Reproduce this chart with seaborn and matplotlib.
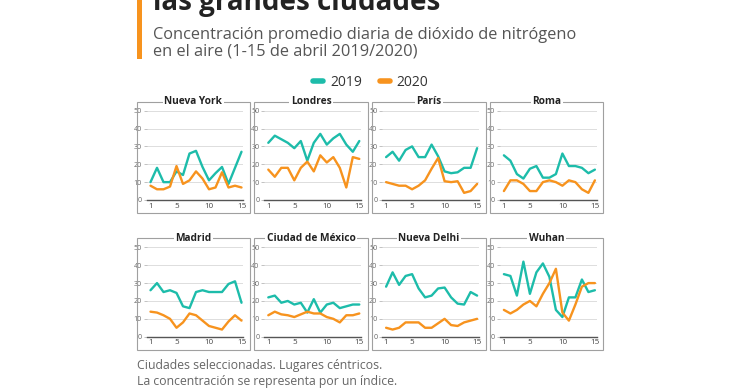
import matplotlib
matplotlib.use("Agg")
import matplotlib.pyplot as plt
import seaborn as sns
import pandas as pd
from matplotlib.patches import Rectangle
from matplotlib.lines import Line2D

# ---------------- data ----------------
days = list(range(1, 16))
cities = ["Nueva York", "Londres", "París", "Roma",
          "Madrid", "Ciudad de México", "Nueva Delhi", "Wuhan"]
years = ["2019", "2020"]

ny_2019 = [10, 18, 10, 10, 16, 14, 26, 27.5, 18.5, 11, 15, 18.5, 9, 18, 27]
ny_2020 = [8, 6, 6, 7.5, 19, 9, 11, 16, 12, 6, 7, 15.5, 7, 8, 7]
lon_2019 = [32, 36, 34, 32, 29, 33, 22, 32, 37, 31, 34.5, 37, 31, 27, 33]
lon_2020 = [17, 13, 18, 18, 11, 18, 21.5, 16, 25, 21, 24, 18, 7, 24, 23]
par_2019 = [24, 27, 22, 28, 30, 24, 24, 31, 24.5, 16, 15, 15.5, 18, 18, 29]
par_2020 = [10, 9, 8, 8, 6, 8, 11, 17.5, 23.5, 10.5, 10, 10.5, 4, 5, 9]
rom_2019 = [25, 22, 14.5, 12, 17.5, 19, 12.5, 12.5, 14.5, 26, 19, 19, 18, 15, 17]
rom_2020 = [5, 11, 11, 9, 5, 5, 10, 11, 10, 8, 11, 10, 6, 4, 11]
mad_2019 = [26, 30, 25, 26, 24.5, 17, 16, 25, 26, 25, 25, 25, 29.5, 31, 19]
mad_2020 = [14, 13.5, 12, 10, 5, 8, 13, 12, 9, 6, 5, 4, 8.5, 12, 9]
mex_2019 = [22, 23, 19, 20, 18, 19, 13.5, 21, 13.5, 18, 19, 16, 17, 18, 18]
mex_2020 = [12, 14, 12.5, 12, 11, 12.5, 14, 13, 13, 11, 10, 8, 12, 12, 13]
del_2019 = [28, 36, 29, 34, 35, 27, 22, 23, 27, 27.5, 22, 18.5, 18, 25, 23]
del_2020 = [5, 4, 5, 8, 8, 8, 5, 5, 7.5, 10, 6.5, 6, 8, 9, 10]
wuh_2019 = [35, 34, 23, 42, 24, 36, 41, 33.5, 15, 11, 22, 22, 32, 25, 26]
wuh_2020 = [15, 13, 15, 18, 20, 17, 24, 30, 38, 13.5, 9, 18, 28, 30, 30]

series = {
    "Nueva York": (ny_2019, ny_2020),
    "Londres": (lon_2019, lon_2020),
    "París": (par_2019, par_2020),
    "Roma": (rom_2019, rom_2020),
    "Madrid": (mad_2019, mad_2020),
    "Ciudad de México": (mex_2019, mex_2020),
    "Nueva Delhi": (del_2019, del_2020),
    "Wuhan": (wuh_2019, wuh_2020),
}

xticks = [1, 5, 10, 15]
yticks = [0, 10, 20, 30, 40, 50]

title = "las grandes ciudades"
subtitle1 = "Concentración promedio diaria de dióxido de nitrógeno"
subtitle2 = "en el aire (1-15 de abril 2019/2020)"
foot1 = "Ciudades seleccionadas. Lugares céntricos."
foot2 = "La concentración se representa por un índice."

rows = []
for c in cities:
    for y, vals in zip(years, series[c]):
        for d, v in zip(days, vals):
            rows.append({"city": c, "year": y, "day": d, "value": v})
df = pd.DataFrame(rows)

# ---------------- style ----------------
sns.set_theme(style="white")
plt.rcParams["font.family"] = ["Open Sans", "DejaVu Sans"]

TEAL = "#1dbcaa"
ORANGE = "#f7931e"
palette = {"2019": TEAL, "2020": ORANGE}

W, H = 740, 389
fig = plt.figure(figsize=(W / 100, H / 100), dpi=100)
fig.patch.set_facecolor("white")


def fx(x):
    return x / W


def fy(y):
    return 1 - y / H


# header
fig.add_artist(Rectangle((fx(137), fy(59)), fx(5), 59 / H, transform=fig.transFigure,
                         fc=ORANGE, ec="none"))
fig.text(fx(153), fy(10), title, fontsize=20, fontweight="bold", color="#222222",
         ha="left", va="baseline")
fig.text(fx(153), fy(35), subtitle1, fontsize=11.75, color="#555555", ha="left", va="center")
fig.text(fx(153), fy(52), subtitle2, fontsize=11.75, color="#555555", ha="left", va="center")

handles = [Line2D([], [], color=TEAL, lw=4), Line2D([], [], color=ORANGE, lw=4)]
fig.legend(handles, years, loc="center", bbox_to_anchor=(fx(371), fy(82)), ncol=2,
           frameon=False, handlelength=0.7, fontsize=10, columnspacing=1.3,
           handletextpad=0.5, labelcolor="#333333")

# panels
step = 117.8
sx = 91 / 14
sy = 1.787
xlo, xhi = 0.4, 15.25
ylo, yhi = 0, 51.5
for i, c in enumerate(cities):
    col, row = i % 4, i // 4
    x1 = 150.5 + step * col
    y0 = 200 if row == 0 else 336.7
    left = x1 - (1 - xlo) * sx
    right = x1 + (xhi - 1) * sx
    top = y0 - (yhi - ylo) * sy
    ax = fig.add_axes([fx(left), fy(y0), (right - left) / W, (y0 - top) / H])
    sub = df[df.city == c]
    sns.lineplot(data=sub, x="day", y="value", hue="year", palette=palette,
                 linewidth=1.7, legend=False, ax=ax)
    ax.set_xlim(xlo, xhi)
    ax.set_ylim(ylo, yhi)
    ax.set_xticks(xticks)
    ax.set_yticks(yticks)
    ax.set_xlabel("")
    ax.set_ylabel("")
    ax.grid(axis="y", color="#dddddd", lw=0.7)
    ax.set_axisbelow(True)
    for s in ["left", "right", "top"]:
        ax.spines[s].set_visible(False)
    ax.spines["bottom"].set_color("#555555")
    ax.spines["bottom"].set_linewidth(1.0)
    ax.tick_params(axis="x", length=0, pad=2, labelsize=5.8, labelcolor="#444444")
    ax.tick_params(axis="y", length=2.5, width=0.5, color="#aaaaaa", pad=1,
                   labelsize=5.1, labelcolor="#666666", left=True)
    ax.patch.set_alpha(0)

    bl = x1 - 14
    bw = 113.5
    bt = y0 - 98.5
    bb = y0 + 13
    fig.add_artist(Rectangle((fx(bl), fy(bb)), bw / W, (bb - bt) / H,
                             transform=fig.transFigure, fill=False,
                             ec="#a0a0a0", lw=0.8))
    fig.text(fx(bl + bw / 2), fy(bt), c, fontsize=7.3, fontweight="bold", color="#222222",
             ha="center", va="center",
             bbox=dict(fc="white", ec="none", pad=1.2))

fig.text(fx(137), fy(365), foot1, fontsize=8.8, color="#666666", ha="left", va="center")
fig.text(fx(137), fy(381), foot2, fontsize=8.8, color="#666666", ha="left", va="center")

fig.savefig("out.png", dpi=100, facecolor="white")
